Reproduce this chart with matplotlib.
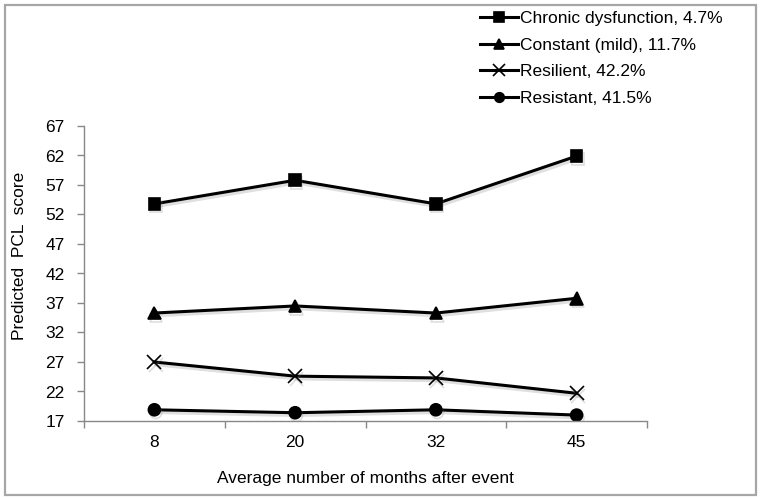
import matplotlib
matplotlib.use("Agg")
import matplotlib.pyplot as plt
import matplotlib.patheffects as pe
from matplotlib.patches import Rectangle

plt.rcParams["font.family"] = ["Liberation Sans", "DejaVu Sans"]

# data
months = ["8", "20", "32", "45"]
chronic = [53.8, 57.8, 53.8, 61.9]
constant = [35.3, 36.5, 35.3, 37.8]
resilient = [27.0, 24.6, 24.3, 21.7]
resistant = [18.9, 18.4, 18.9, 18.0]
series_labels = [
    "Chronic dysfunction, 4.7%",
    "Constant (mild), 11.7%",
    "Resilient, 42.2%",
    "Resistant, 41.5%",
]
y_ticks = [17, 22, 27, 32, 37, 42, 47, 52, 57, 62, 67]

W, H = 764, 499
fig = plt.figure(figsize=(W / 100, H / 100), dpi=100)

# plot area in pixel units of the reference
left, right, top, bottom = 84, 647, 126, 421
ax = fig.add_axes([left / W, 1 - bottom / H, (right - left) / W, (bottom - top) / H])

x = list(range(len(months)))
shadow = [pe.SimpleLineShadow(offset=(1, -2), shadow_color="gray", alpha=0.25), pe.Normal()]
styles = [
    (chronic, "s", 8.4),
    (constant, "^", 9),
    (resilient, "x", 10),
    (resistant, "o", 8.6),
]
for (vals, mk, ms), lab in zip(styles, series_labels):
    ax.plot(x, vals, color="black", linewidth=2.2, marker=mk, markersize=ms,
            markeredgewidth=1.2, label=lab, path_effects=shadow)

ax.set_xlim(-0.5, len(months) - 0.5)
ax.set_ylim(17, 67)
ax.set_yticks(y_ticks)
ax.set_xticks(x)
ax.set_xticklabels(months)
ax.set_xticks([i + 0.5 for i in range(-1, len(months))], minor=True)

ax.tick_params(axis="y", direction="out", length=5, width=1, color="#888888",
               labelsize=12.5, pad=9)
ax.tick_params(axis="x", which="major", length=0, labelsize=12.5, pad=10)
ax.tick_params(axis="x", which="minor", direction="out", length=5, width=1, color="#888888")

for side in ["top", "right"]:
    ax.spines[side].set_visible(False)
for side in ["left", "bottom"]:
    ax.spines[side].set_color("#888888")
    ax.spines[side].set_linewidth(1)

ax.set_ylabel("Predicted  PCL  score", fontsize=12.5)
ax.yaxis.set_label_coords((20 - left) / (right - left), (bottom - 256) / (bottom - top))
ax.yaxis.label.set_va("center")
ax.set_xlabel("Average number of months after event", fontsize=12.5)
ax.xaxis.set_label_coords(0.5, (bottom - 479) / (bottom - top))
ax.xaxis.label.set_va("center")

# legend, small markers as in the reference
leg_handles = []
for vals, mk, ms in styles:
    (h,) = plt.plot([], [], color="black", linewidth=2.2, marker=mk,
                    markersize=ms * 0.8, markeredgewidth=1.2)
    leg_handles.append(h)
fig.legend(leg_handles, series_labels, loc="upper left",
           bbox_to_anchor=(480 / W, 1 - 11 / H), frameon=False, fontsize=12.5,
           borderpad=0, borderaxespad=0, handlelength=2.2, handletextpad=0.1,
           labelspacing=0.66)

# grey frame around the whole picture
fig.patches.append(Rectangle((5 / W, 1 - 495 / H), 751 / W, 490 / H,
                             transform=fig.transFigure, fill=False,
                             edgecolor="#a6a6a6", linewidth=1.6))

fig.savefig("out.png", dpi=100)
